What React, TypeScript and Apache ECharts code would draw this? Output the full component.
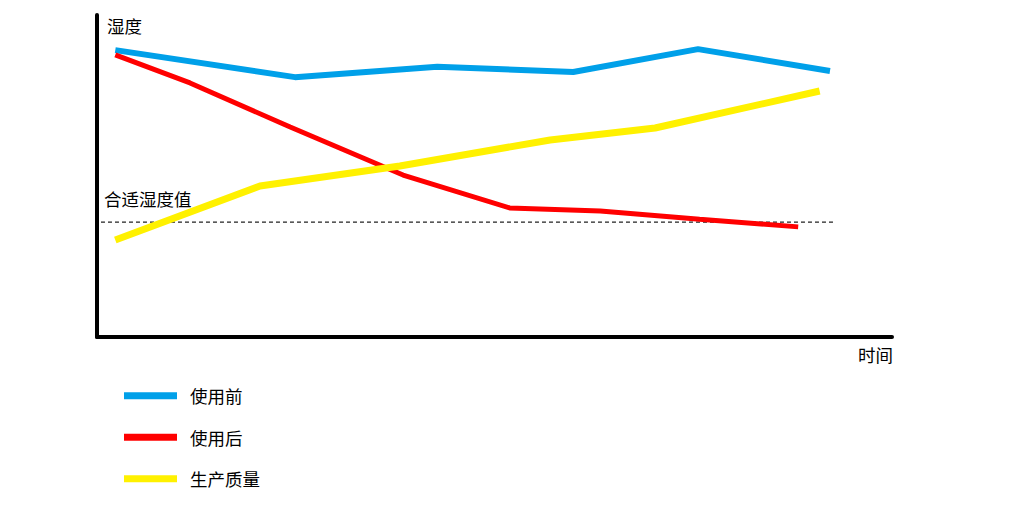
import React, { useEffect, useRef } from "react";
import * as echarts from "echarts";

// time positions (0-100) and humidity values (0-100)
const beforeX = [2.3, 24.9, 42.8, 59.9, 75.6, 92.2];
const beforeY = [89.1, 80.7, 83.9, 82.3, 89.4, 82.6];
const afterX = [2.3, 11.7, 24.3, 38.5, 51.9, 63.3, 75.8, 88.2];
const afterY = [87.6, 78.9, 65.2, 50.3, 40.1, 39.1, 36.6, 34.2];
const qualityX = [2.3, 20.5, 38.1, 57.0, 70.2, 90.9];
const qualityY = [30.1, 46.9, 53.1, 61.2, 64.9, 76.4];
const idealX = [0.5, 92.7];
const idealValue = 35.7;

const seriesNames = ["使用前", "使用后", "生产质量"];
const seriesColors = ["#00A0E9", "#FF0000", "#FFF100"];

const zip = (xs: number[], ys: number[]) => xs.map((x, i) => [x, ys[i]]);

export default function App() {
  const ref = useRef<HTMLDivElement>(null);
  useEffect(() => {
    if (!ref.current) return;
    const chart = echarts.init(ref.current, null, { renderer: "svg" });
    const font = "'Noto Sans CJK SC', 'Noto Sans', sans-serif";
    chart.setOption({
      animation: false,
      grid: { left: 97, top: 15, right: 119, bottom: 172 },
      xAxis: {
        type: "value",
        min: 0,
        max: 100,
        axisLine: { show: true, lineStyle: { color: "#000", width: 4 } },
        axisTick: { show: false },
        axisLabel: { show: false },
        splitLine: { show: false },
      },
      yAxis: {
        type: "value",
        min: 0,
        max: 100,
        axisLine: { show: true, lineStyle: { color: "#000", width: 4 } },
        axisTick: { show: false },
        axisLabel: { show: false },
        splitLine: { show: false },
      },
      legend: {
        orient: "vertical",
        left: 124,
        top: 387,
        padding: 0,
        itemWidth: 53,
        itemHeight: 7,
        itemGap: 24,
        icon: "rect",
        data: seriesNames,
        textStyle: { fontFamily: font, fontSize: 17.5, color: "#000", padding: [0, 0, 0, 8] },
      },
      graphic: [
        { type: "text", left: 107, top: 17, style: { text: "湿度", fontFamily: font, fontSize: 17.5, fill: "#000" } },
        { type: "text", left: 104, top: 190, style: { text: "合适湿度值", fontFamily: font, fontSize: 17.5, fill: "#000" } },
        { type: "text", left: 858, top: 346, style: { text: "时间", fontFamily: font, fontSize: 17.5, fill: "#000" } },
      ],
      series: [
        {
          name: "合适湿度值",
          type: "line",
          data: idealX.map((x) => [x, idealValue]),
          symbol: "none",
          lineStyle: { color: "#222", width: 1.2, type: [4, 3] },
          silent: true,
          z: 1,
        },
        {
          name: seriesNames[0],
          type: "line",
          data: zip(beforeX, beforeY),
          symbol: "none",
          color: seriesColors[0],
          lineStyle: { width: 6, color: seriesColors[0] },
          z: 3,
        },
        {
          name: seriesNames[1],
          type: "line",
          data: zip(afterX, afterY),
          symbol: "none",
          color: seriesColors[1],
          lineStyle: { width: 5, color: seriesColors[1] },
          z: 4,
        },
        {
          name: seriesNames[2],
          type: "line",
          data: zip(qualityX, qualityY),
          symbol: "none",
          color: seriesColors[2],
          lineStyle: { width: 7, color: seriesColors[2] },
          z: 5,
        },
      ],
    });
    return () => chart.dispose();
  }, []);
  return <div ref={ref} style={{ width: 1011, height: 509, position: "absolute", left: 0, top: 0 }} />;
}
